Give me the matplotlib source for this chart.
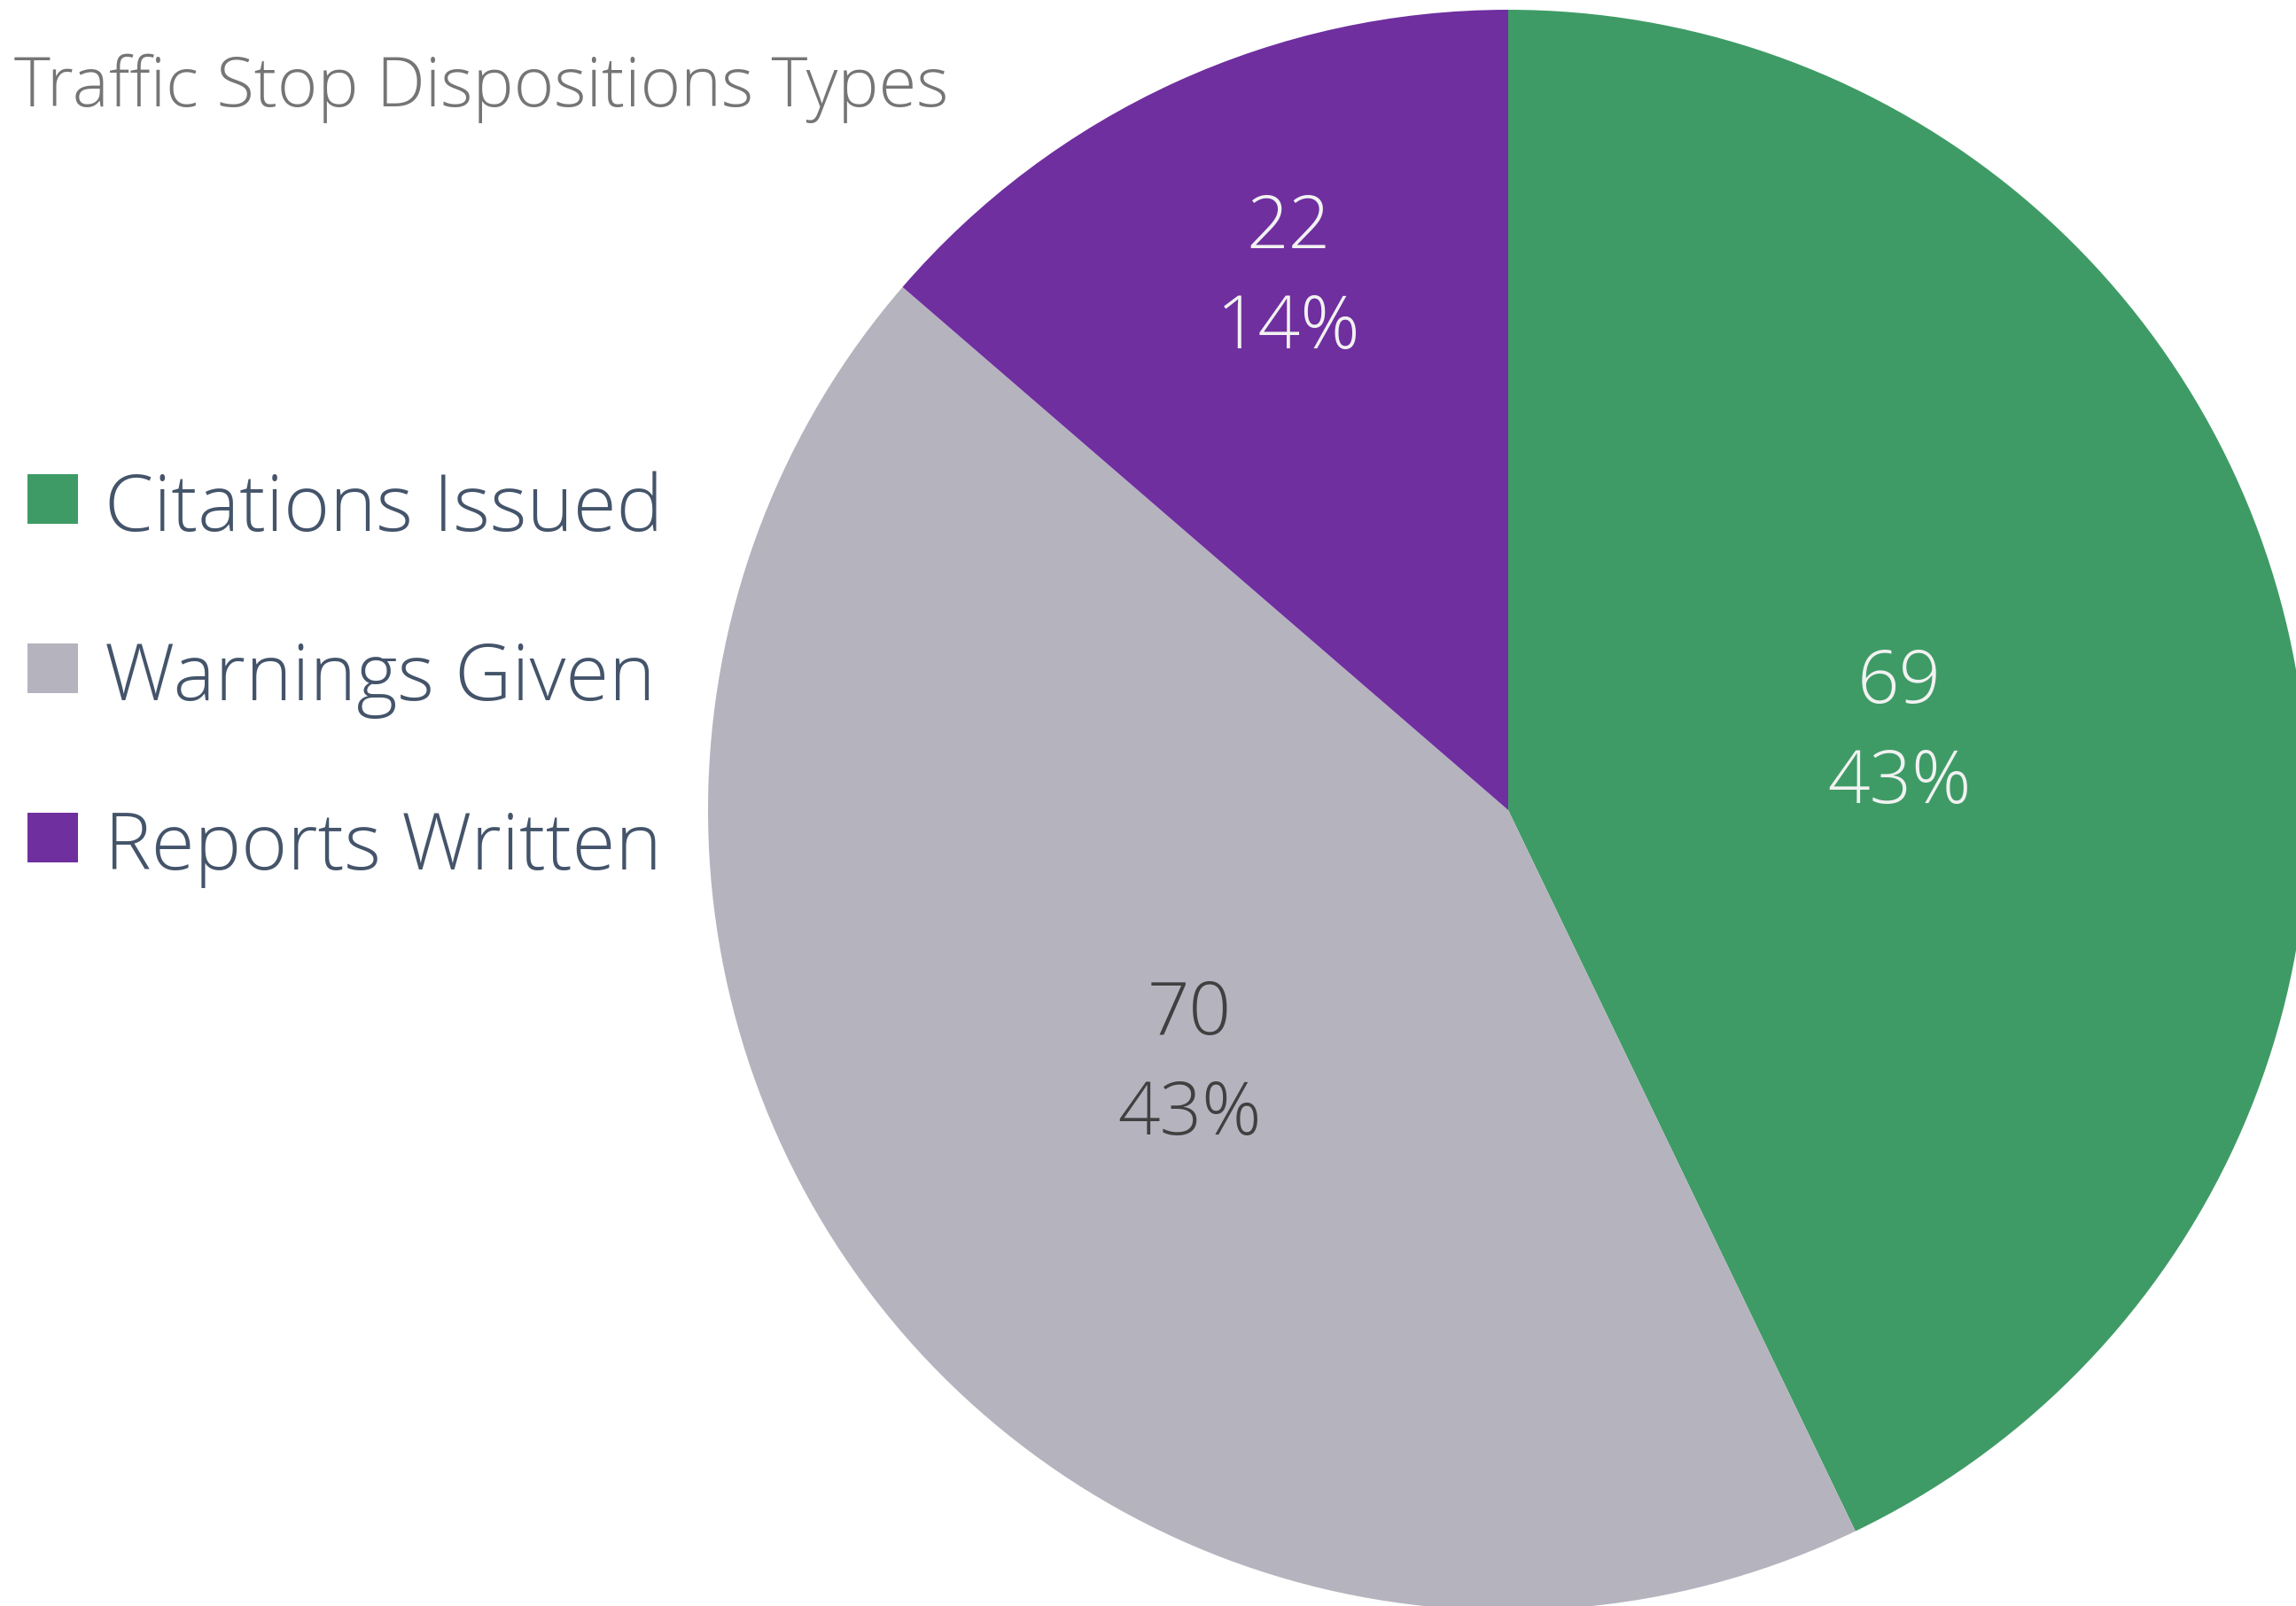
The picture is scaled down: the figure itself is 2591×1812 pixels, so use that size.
import numpy as np
import matplotlib
matplotlib.use("Agg")
import matplotlib.pyplot as plt
from matplotlib.patches import Rectangle
from matplotlib.transforms import offset_copy

title = "Traffic Stop Dispositions Types"
categories = ["Citations Issued", "Warnings Given", "Reports Written"]
values = [69, 70, 22]
colors = ["#3F9B66", "#B5B3BE", "#6F2F9F"]
label_colors = ["#F2F2F2", "#404040", "#F2F2F2"]
label_radius = [0.4995, 0.505, 0.726]
label_angle_adj = [-0.76, 0.45, -2.4]

FONT = ["Open Sans", "Lato", "DejaVu Sans"]
W, H = 2591, 1812
DPI = 100
fig = plt.figure(figsize=(W / DPI, H / DPI), dpi=DPI)
ax = fig.add_axes([0, 0, 1, 1])

cx, cy, R = 1702, 914, 903

wedges, _ = ax.pie(values, colors=colors, startangle=90, counterclock=False,
                   radius=1.0, center=(0, 0),
                   wedgeprops=dict(edgecolor="none", linewidth=0))
ax.set_xlim(-cx / R, (W - cx) / R)
ax.set_ylim(-(H - cy) / R, cy / R)
ax.set_aspect("equal")
ax.axis("off")

total = sum(values)
LBL_FS = 60
cap_px = 0.714 * LBL_FS * DPI / 72
half_gap_px = 56.5
px2pt = 72 / DPI
for w, v, lc, lr, da in zip(wedges, values, label_colors, label_radius, label_angle_adj):
    ang = np.deg2rad((w.theta1 + w.theta2) / 2 + da)
    x, y = lr * np.cos(ang), lr * np.sin(ang)
    pct = f"{round(100 * v / total)}%"
    t1 = offset_copy(ax.transData, fig=fig, x=0,
                     y=(half_gap_px - cap_px / 2) * px2pt, units="points")
    t2 = offset_copy(ax.transData, fig=fig, x=0,
                     y=(-half_gap_px - cap_px / 2) * px2pt, units="points")
    ax.text(x, y, f"{v}", ha="center", va="baseline", color=lc, transform=t1,
            fontsize=LBL_FS, family=FONT, fontweight="light")
    ax.text(x, y, pct, ha="center", va="baseline", color=lc, transform=t2,
            fontsize=LBL_FS, family=FONT, fontweight="light")

# title
fig.text(16 / W, 1 - 120 / H, title, ha="left", va="baseline",
         fontsize=56, color="#757575", family=FONT, fontweight="light")

# legend
ys = [563, 754, 945]
for cat, col, yy in zip(categories, colors, ys):
    fig.patches.append(Rectangle((31 / W, 1 - (yy + 28) / H), 57 / W, 56 / H,
                                 transform=fig.transFigure, facecolor=col,
                                 edgecolor="none"))
    fig.text(118 / W, 1 - (yy + 36) / H, cat, ha="left", va="baseline",
             fontsize=64, color="#44546A", family=FONT, fontweight="light")

fig.savefig("out.png", dpi=DPI)
